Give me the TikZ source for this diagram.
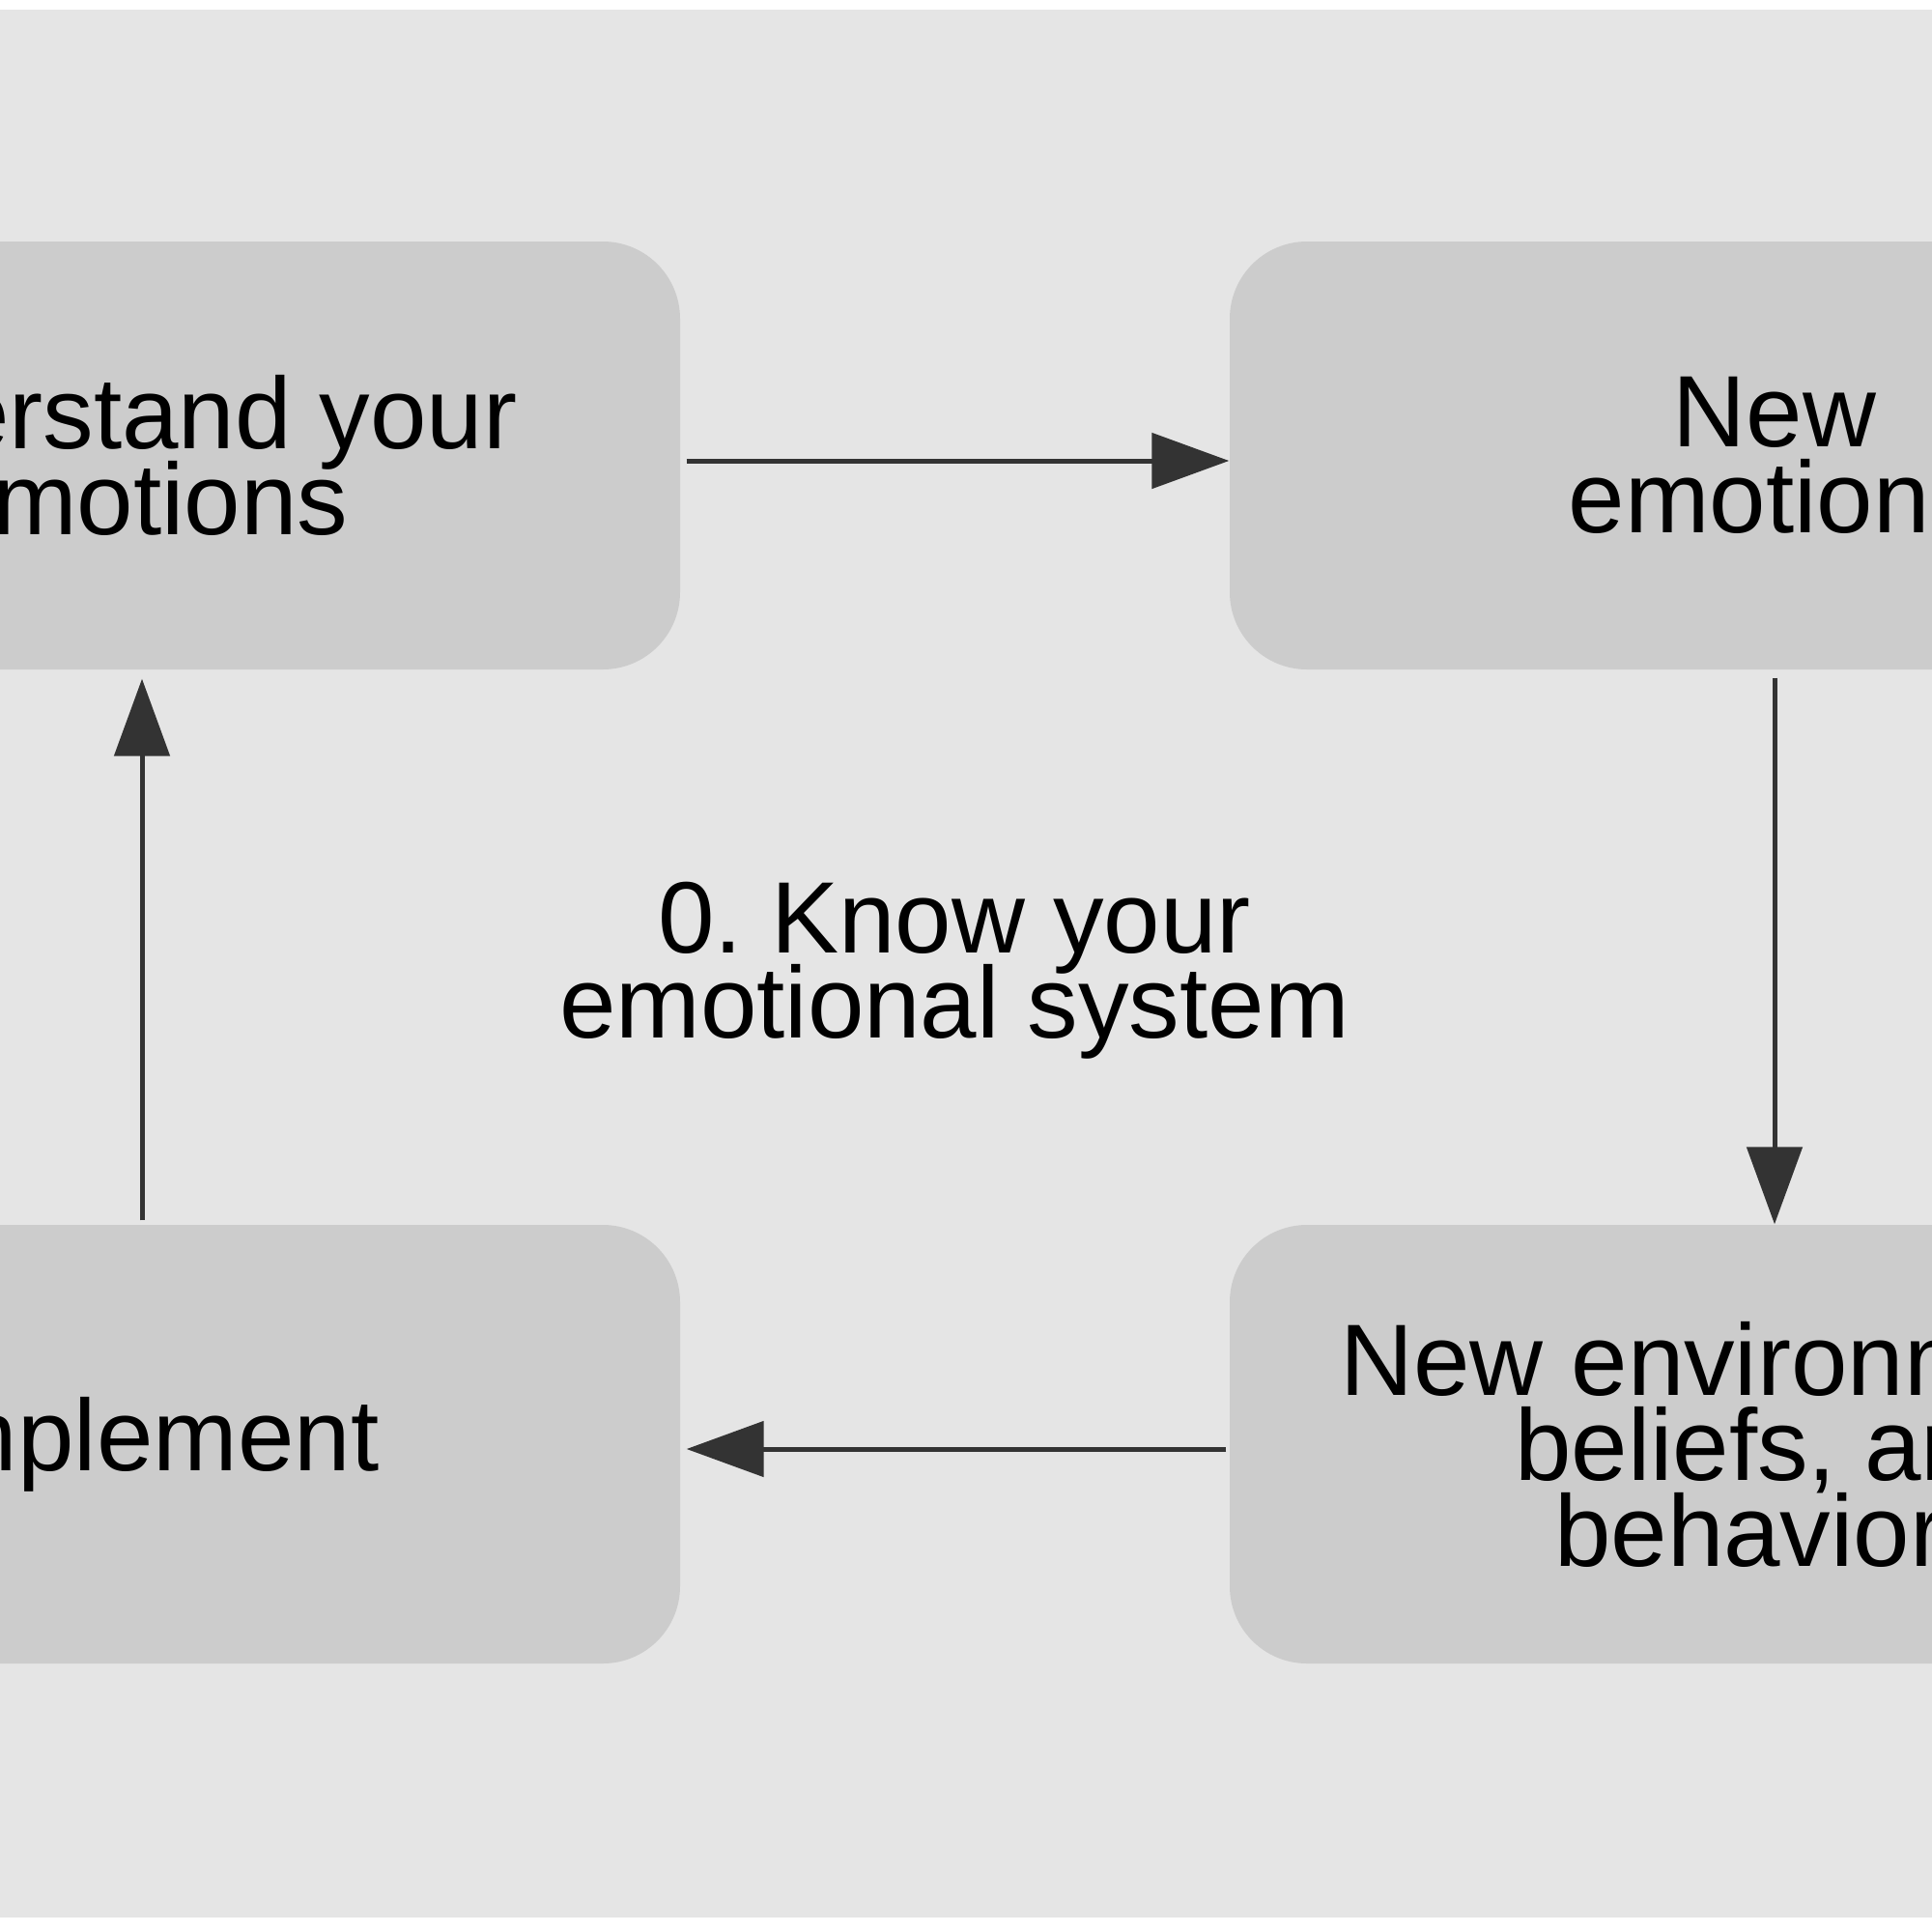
\documentclass[tikz,border=0pt]{standalone}
\usepackage{fontspec}
\setmainfont{Liberation Sans}
\usepackage{tikz}
\usetikzlibrary{positioning,arrows.meta}
\definecolor{PanelGray}{RGB}{229,229,229}
\definecolor{BoxGray}{RGB}{204,204,204}
\definecolor{ArrowGray}{RGB}{51,51,51}
\newcommand{\boxfont}{\fontsize{29.9}{25.2}\selectfont\frenchspacing\lineskiplimit=-100pt\relax}

\begin{document}
\begin{tikzpicture}[
    stepbox/.style={rectangle, rounded corners=0.8cm, fill=BoxGray, draw=none,
        minimum width=11.14cm, minimum height=4.43cm, inner sep=0pt, align=center,
        font=\boxfont},
    core/.style={inner sep=0pt, align=center, font=\boxfont},
    flow/.style={-{Triangle[length=0.8cm, width=0.57cm]}, draw=ArrowGray, line width=0.05cm}
]
\useasboundingbox (0,0) rectangle (20,-20);
\fill[white] (0,0) rectangle (20,-20);
\clip (0,0) rectangle (20,-20);
\fill[PanelGray] (0,-0.10) rectangle (20,-19.85);

\node[stepbox] (understand) at (1.47,-4.715) {Understand your\\emotions};
\node[stepbox, minimum width=11.28cm] (newemo) at (18.37,-4.715) {New\\emotions};
\node[stepbox, minimum width=11.28cm, minimum height=4.54cm] (newenv) at (18.37,-14.95) {New environments,\\beliefs, and\\behaviors};
\node[stepbox, minimum height=4.54cm] (implement) at (1.47,-14.95) {Implement};
\node[core] (know) at (9.88,-10.045) {0. Know your\\emotional system};

\draw[flow, shorten <=0.06cm] ([yshift=-0.055cm]understand.east) -- ([yshift=-0.055cm]newemo.west);
\draw[flow, shorten <=0.08cm] (newemo) -- (newenv);
\draw[flow, shorten <=0.03cm, shorten >=0.06cm] ([yshift=-0.05cm]newenv.west) -- ([yshift=-0.05cm]implement.east);
\draw[flow, shorten <=0.04cm, shorten >=0.09cm] (implement) -- (understand);
\end{tikzpicture}
\end{document}
